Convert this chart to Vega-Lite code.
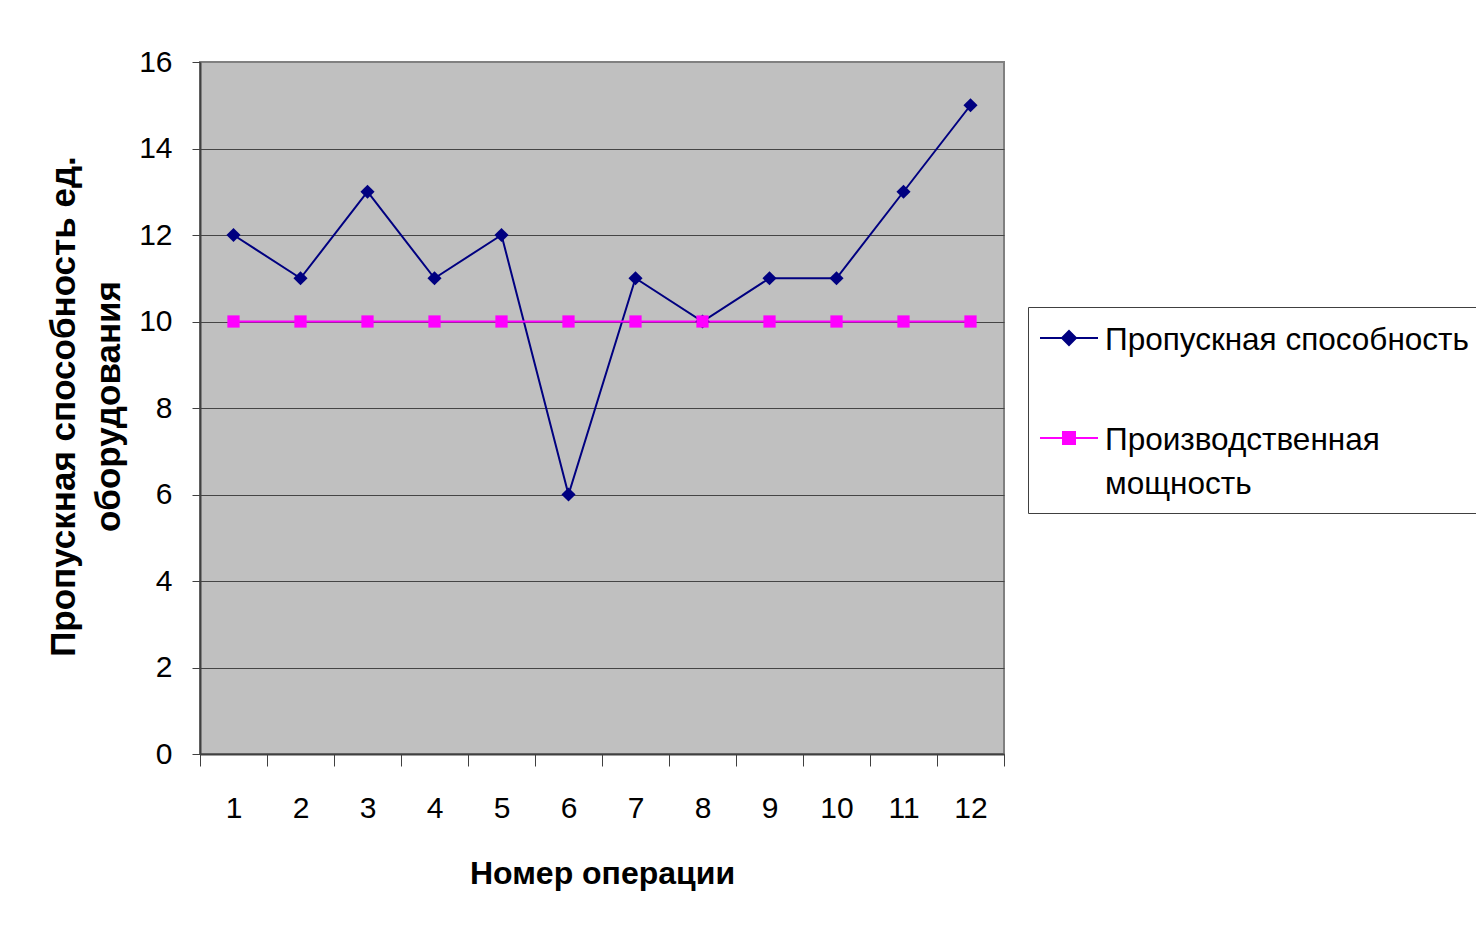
{
  "$schema": "https://vega.github.io/schema/vega-lite/v6.json",
  "width": 804,
  "height": 692,
  "autosize": {"type": "none"},
  "padding": {"left": 200, "top": 62, "right": 472, "bottom": 173},
  "background": "white",
  "config": {
    "font": "Liberation Sans",
    "view": {"fill": "#C0C0C0", "stroke": "#808080", "strokeWidth": 2}
  },
  "data": {
    "values": [
      {"op": "1", "series": "Пропускная способность", "value": 12},
      {"op": "2", "series": "Пропускная способность", "value": 11},
      {"op": "3", "series": "Пропускная способность", "value": 13},
      {"op": "4", "series": "Пропускная способность", "value": 11},
      {"op": "5", "series": "Пропускная способность", "value": 12},
      {"op": "6", "series": "Пропускная способность", "value": 6},
      {"op": "7", "series": "Пропускная способность", "value": 11},
      {"op": "8", "series": "Пропускная способность", "value": 10},
      {"op": "9", "series": "Пропускная способность", "value": 11},
      {"op": "10", "series": "Пропускная способность", "value": 11},
      {"op": "11", "series": "Пропускная способность", "value": 13},
      {"op": "12", "series": "Пропускная способность", "value": 15},
      {"op": "1", "series": "Производственная мощность", "value": 10},
      {"op": "2", "series": "Производственная мощность", "value": 10},
      {"op": "3", "series": "Производственная мощность", "value": 10},
      {"op": "4", "series": "Производственная мощность", "value": 10},
      {"op": "5", "series": "Производственная мощность", "value": 10},
      {"op": "6", "series": "Производственная мощность", "value": 10},
      {"op": "7", "series": "Производственная мощность", "value": 10},
      {"op": "8", "series": "Производственная мощность", "value": 10},
      {"op": "9", "series": "Производственная мощность", "value": 10},
      {"op": "10", "series": "Производственная мощность", "value": 10},
      {"op": "11", "series": "Производственная мощность", "value": 10},
      {"op": "12", "series": "Производственная мощность", "value": 10}
    ]
  },
  "encoding": {
    "x": {
      "field": "op",
      "type": "ordinal",
      "sort": null,
      "scale": {"type": "band", "paddingInner": 0, "paddingOuter": 0},
      "axis": {
        "tickBand": "extent",
        "tickSize": 12,
        "tickColor": "#404040",
        "domainColor": "#404040",
        "domainWidth": 2,
        "labelAngle": 0,
        "labelFontSize": 30,
        "labelColor": "black",
        "labelPadding": 27,
        "grid": false,
        "title": "Номер операции",
        "titleFontSize": 32,
        "titleFontWeight": "bold",
        "titleColor": "black",
        "titleY": 119,
        "titleBaseline": "middle"
      }
    },
    "y": {
      "field": "value",
      "type": "quantitative",
      "scale": {"domain": [0, 16], "nice": false},
      "axis": {
        "values": [0, 2, 4, 6, 8, 10, 12, 14, 16],
        "tickSize": 8,
        "tickColor": "#404040",
        "domainColor": "#404040",
        "domainWidth": 2,
        "labelFontSize": 30,
        "labelColor": "black",
        "labelPadding": 20,
        "grid": true,
        "gridColor": {"condition": {"test": "datum.value == 16", "value": "#808080"}, "value": "#454545"},
        "gridWidth": 1,
        "gridOpacity": 1,
        "title": ["Пропускная способность ед.", "оборудования"],
        "titleFontSize": 35,
        "titleFontWeight": "bold",
        "titleColor": "black",
        "titleLineHeight": 45,
        "titleAngle": -90,
        "titleAlign": "center",
        "titleBaseline": "middle",
        "titleX": -137,
        "titleY": 344
      }
    }
  },
  "layer": [
    {
      "mark": {"type": "line", "strokeWidth": 2},
      "encoding": {
        "color": {
          "field": "series",
          "type": "nominal",
          "scale": {
            "domain": ["Пропускная способность", "Производственная мощность"],
            "range": ["#000080", "#FF00FF"]
          },
          "legend": {
            "orient": "none",
            "legendX": 828,
            "legendY": 245,
            "title": null,
            "padding": 12,
            "strokeColor": "#404040",
            "fillColor": "white",
            "labelFontSize": 31.5,
            "labelColor": "black",
            "labelOffset": 27,
            "labelLimit": 1000,
            "labelBaseline": "alphabetic",
            "rowPadding": 62,
            "symbolSize": 1296,
            "symbolStrokeWidth": 2,
            "labelExpr": "datum.label == 'Производственная мощность' ? ['Производственная', 'мощность'] : datum.label",
            "encode": {
              "symbols": {
                "update": {
                  "shape": {"signal": "datum.value == 'Пропускная способность' ? 'M-1.056,0L2.167,0M0.556,-0.389L0.944,0L0.556,0.389L0.167,0Z' : 'M-1.056,0L2.167,0M0.222,-0.333L0.889,-0.333L0.889,0.333L0.222,0.333Z'"},
                  "fill": {"signal": "datum.value == 'Пропускная способность' ? '#000080' : '#FF00FF'"},
                  "stroke": {"signal": "datum.value == 'Пропускная способность' ? '#000080' : '#FF00FF'"},
                  "strokeWidth": {"value": 2},
                  "fillOpacity": {"value": 1},
                  "strokeOpacity": {"value": 1},
                  "opacity": {"value": 1}
                }
              },
              "labels": {
                "update": {"dy": {"value": 12}, "lineHeight": {"value": 44}}
              }
            }
          }
        }
      }
    },
    {
      "transform": [{"filter": "datum.series == 'Пропускная способность'"}],
      "mark": {"type": "point", "filled": true, "opacity": 1, "shape": "diamond", "size": 200, "color": "#000080"}
    },
    {
      "transform": [{"filter": "datum.series == 'Производственная мощность'"}],
      "mark": {"type": "point", "filled": true, "opacity": 1, "shape": "square", "size": 150, "color": "#FF00FF"}
    }
  ]
}
